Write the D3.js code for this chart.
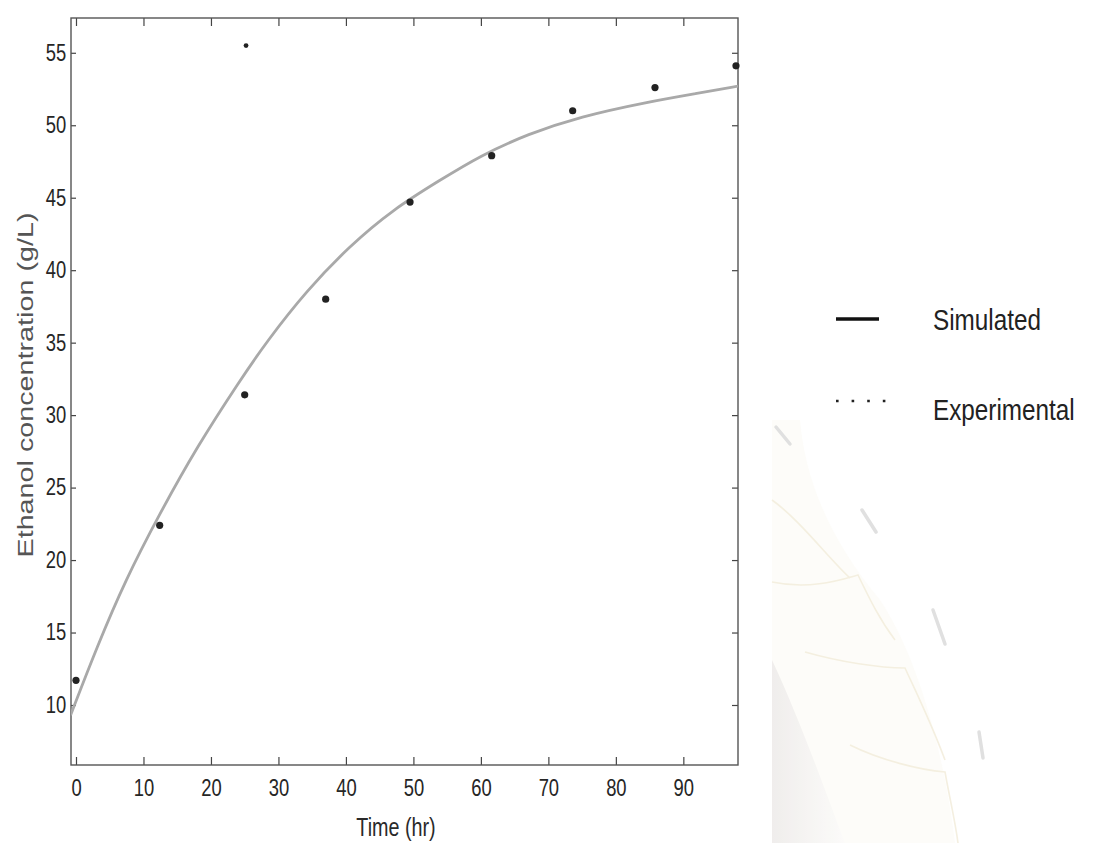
<!DOCTYPE html>
<html>
<head>
<meta charset="utf-8">
<script src="https://cdn.jsdelivr.net/npm/d3@7/dist/d3.min.js"></script>
<style>
  html, body { margin: 0; padding: 0; background: #ffffff; }
  svg { display: block; }
</style>
</head>
<body>
<svg id="chart" width="1093" height="843"></svg>
<script>
// ---- data ----
const timeTicks = [0, 10, 20, 30, 40, 50, 60, 70, 80, 90];
const concTicks = [10, 15, 20, 25, 30, 35, 40, 45, 50, 55];

// Experimental points (Time hr, Ethanol g/L)
const expTime = [0, 12.4, 25.2, 25.0, 37.0, 49.5, 61.6, 73.6, 85.8, 97.8];
const expConc = [11.7, 22.4, 55.5, 31.4, 38.0, 44.7, 47.9, 51.0, 52.6, 54.1];

// Simulated curve
const simTime = [-0.8, 3.1, 7.3, 12.4, 17.9, 24.3, 28.3, 34.2, 40.6, 47.0, 53.9, 59.9, 67.0, 74.7, 84.6, 92.0, 98.1];
const simConc = [9.3, 14.0, 18.6, 23.2, 27.8, 32.4, 35.1, 38.6, 41.7, 44.2, 46.2, 47.9, 49.4, 50.6, 51.6, 52.2, 52.7];

const legendLabels = ["Simulated", "Experimental"];
const xTitle = "Time (hr)";
const yTitle = "Ethanol concentration (g/L)";

// ---- layout ----
const L = 71, R = 738, T = 18, B = 765;
const sans = "'Liberation Sans', Arial, Helvetica, sans-serif";

const svg = d3.select("#chart");

// faint background decoration (scanned slide watermark, bottom right)
const deco = svg.append("g").attr("opacity", 0.75);
const defs = svg.append("defs");
const grad = defs.append("linearGradient").attr("id", "wm").attr("x1", 0).attr("x2", 1);
grad.append("stop").attr("offset", 0).attr("stop-color", "#ebe8e6");
grad.append("stop").attr("offset", 1).attr("stop-color", "#fbfaf8");
deco.append("path")
  .attr("d", "M772,420 L800,420 C805,480 830,540 880,600 C920,660 945,760 955,843 L772,843 Z")
  .attr("fill", "#fdfcf7");
deco.append("path")
  .attr("d", "M772,660 C800,720 825,790 845,843 L772,843 Z")
  .attr("fill", "url(#wm)");
["M772,500 C800,520 830,560 850,578",
 "M772,582 C810,590 840,580 858,575 C870,600 880,620 895,640",
 "M805,652 C840,662 880,668 905,668 C915,690 930,720 945,760",
 "M850,745 C880,760 920,770 945,772 C950,800 955,820 958,843"]
  .forEach(d => deco.append("path").attr("d", d).attr("fill", "none").attr("stroke", "#f1ead6").attr("stroke-width", 1.6));
[[776, 427, 790, 444], [862, 510, 876, 532], [933, 610, 945, 644], [979, 732, 983, 758]]
  .forEach(s => deco.append("line").attr("x1", s[0]).attr("y1", s[1]).attr("x2", s[2]).attr("y2", s[3])
    .attr("stroke", "#d6d6d6").attr("stroke-width", 3.5).attr("stroke-linecap", "round"));

// ---- scales ----
const x = d3.scaleLinear().domain([-0.74, 98.1]).range([L, R]);
const y = d3.scaleLinear().domain([5.86, 57.4]).range([B, T]);

// ---- axes ----
function styleAxis(g) {
  g.select(".domain").remove();
  g.selectAll(".tick line").attr("stroke", "#444").attr("stroke-width", 1.2);
  g.selectAll(".tick text")
    .attr("fill", "#262626")
    .style("font-family", sans).style("font-size", "23px")
    .attr("transform", "scale(0.8,1)");
}

svg.append("g").attr("transform", `translate(0,${B})`)
  .call(d3.axisBottom(x).tickValues(timeTicks).tickSizeInner(-8).tickSizeOuter(0).tickPadding(15))
  .call(styleAxis);

svg.append("g").attr("transform", `translate(0,${T})`)
  .call(d3.axisTop(x).tickValues(timeTicks).tickSizeInner(-8).tickSizeOuter(0).tickFormat(""))
  .call(styleAxis);

svg.append("g").attr("transform", `translate(${L},0)`)
  .call(d3.axisLeft(y).tickValues(concTicks).tickSizeInner(-5).tickSizeOuter(0).tickPadding(6))
  .call(styleAxis);

svg.append("g").attr("transform", `translate(${R},0)`)
  .call(d3.axisRight(y).tickValues(concTicks).tickSizeInner(-6).tickSizeOuter(0).tickFormat(""))
  .call(styleAxis);

// frame
svg.append("rect")
  .attr("x", L).attr("y", T).attr("width", R - L).attr("height", B - T)
  .attr("fill", "none").attr("stroke", "#555").attr("stroke-width", 1.4);

// ---- simulated curve ----
defs.append("clipPath").attr("id", "plotclip")
  .append("rect").attr("x", L).attr("y", T).attr("width", R - L).attr("height", B - T);

const simData = simTime.map((t, i) => ({ t, c: simConc[i] }));
svg.append("path")
  .datum(simData)
  .attr("clip-path", "url(#plotclip)")
  .attr("fill", "none")
  .attr("stroke", "#a9a9a9")
  .attr("stroke-width", 2.8)
  .attr("d", d3.line().x(d => x(d.t)).y(d => y(d.c)).curve(d3.curveBasis));

// ---- experimental points ----
const expData = expTime.map((t, i) => ({ t, c: expConc[i] }));
svg.append("g").selectAll("circle")
  .data(expData)
  .join("circle")
  .attr("cx", d => x(d.t))
  .attr("cy", d => y(d.c))
  .attr("r", (d, i) => i === 2 ? 2.4 : 3.6)
  .attr("fill", "#222");

// ---- axis titles ----
svg.append("text")
  .attr("transform", "translate(396,836) scale(0.76,1)")
  .attr("text-anchor", "middle")
  .style("font-family", sans).style("font-size", "26px")
  .attr("fill", "#2a2a2a")
  .text(xTitle);

svg.append("text")
  .attr("transform", "translate(33,385) rotate(-90)")
  .attr("text-anchor", "middle")
  .attr("textLength", 345).attr("lengthAdjust", "spacingAndGlyphs")
  .style("font-family", sans).style("font-size", "22px")
  .attr("fill", "#555")
  .text(yTitle);

// ---- legend ----
const lg = svg.append("g");
lg.append("line").attr("x1", 836).attr("x2", 879).attr("y1", 319).attr("y2", 319)
  .attr("stroke", "#111").attr("stroke-width", 3.5);
lg.append("line").attr("x1", 836).attr("x2", 886).attr("y1", 401).attr("y2", 401)
  .attr("stroke", "#222").attr("stroke-width", 2.6).attr("stroke-dasharray", "2.6,13");
lg.selectAll("text.lab").data(legendLabels).join("text")
  .attr("class", "lab")
  .attr("transform", (d, i) => `translate(933,${i === 0 ? 330 : 420}) scale(0.81,1)`)
  .style("font-family", sans).style("font-size", "30px")
  .attr("fill", "#222")
  .text(d => d);
</script>
</body>
</html>
